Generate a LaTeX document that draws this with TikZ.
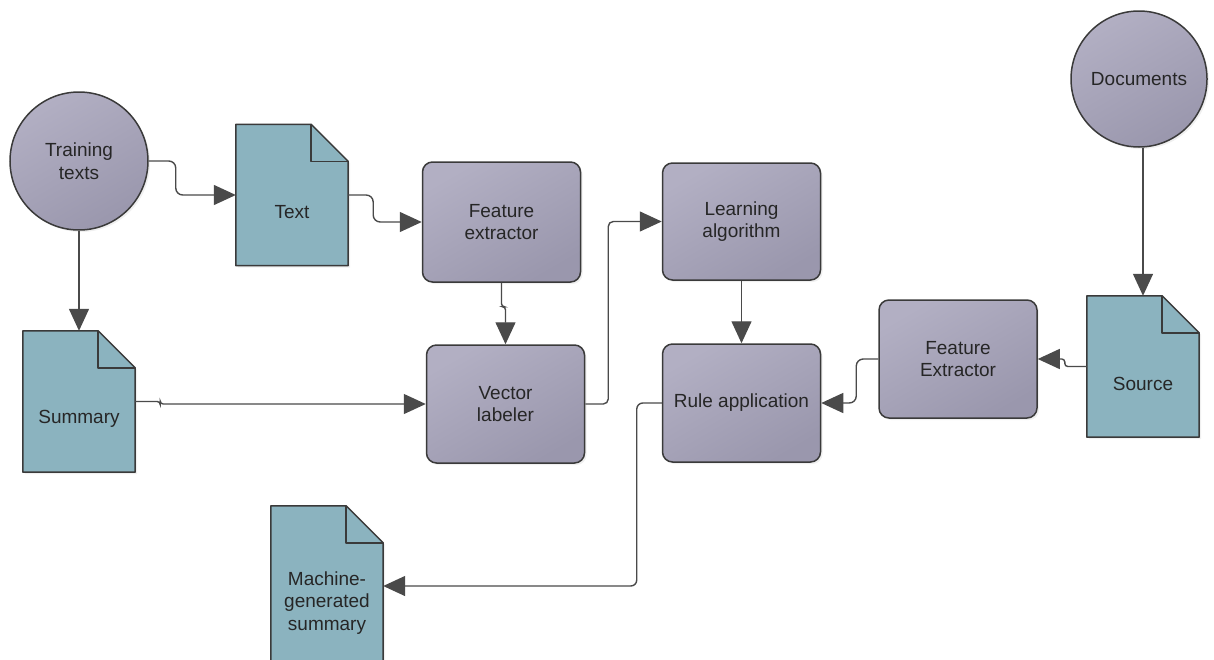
\documentclass[tikz,border=0pt]{standalone}
\usepackage{fontspec}
\setmainfont{Liberation Sans}
\usetikzlibrary{arrows.meta,shadows}

\definecolor{procA}{HTML}{B2AFC3}
\definecolor{procB}{HTML}{9A97AD}
\definecolor{docfillc}{HTML}{8BB3BF}
\definecolor{edgec}{HTML}{3A3A3A}
\definecolor{connc}{HTML}{4A4A4A}
\definecolor{txtc}{HTML}{262626}

% document page with a folded top-right corner, drawn round a named node
\newcommand\docpage[1]{%
  \path[draw=edgec, line width=1.5pt, fill=docfillc, line join=round,
        drop shadow={opacity=0.12, shadow xshift=2pt, shadow yshift=-2pt}]
    (#1.north west) -- ([xshift=-37pt]#1.north east)
    -- ([yshift=-37pt]#1.north east) -- (#1.south east)
    -- (#1.south west) -- cycle;
  \draw[edgec, line width=1.5pt, line join=round]
    ([xshift=-37pt]#1.north east) |- ([yshift=-37pt]#1.north east);
}

\begin{document}
\begin{tikzpicture}[x=1pt, y=-1pt,
  every node/.style={font=\fontsize{19}{22.5}\selectfont, text=txtc, align=center},
  proc/.style={draw=edgec, line width=1.5pt, rounded corners=10pt,
    top color=procA, bottom color=procB, shading angle=30,
    drop shadow={opacity=0.12, shadow xshift=2pt, shadow yshift=-2pt},
    minimum width=158pt, minimum height=118pt, inner sep=0pt},
  bubble/.style={circle, draw=edgec, line width=1.5pt,
    top color=procA, bottom color=procB, shading angle=30,
    drop shadow={opacity=0.12, shadow xshift=2pt, shadow yshift=-2pt},
    inner sep=0pt},
  docbox/.style={rectangle, minimum width=112pt, minimum height=141pt, inner sep=0pt},
  conn/.style={draw=connc, line width=1.4pt, rounded corners=7pt,
    -{Triangle[length=22pt, width=20pt]}}
]
\useasboundingbox (0,0) rectangle (1214,659);
\clip (0,0) rectangle (1214,659);

% source shapes
\node[bubble, minimum size=138pt] (tt) at (79,161) {Training\\texts};
\node[bubble, minimum size=136pt] (docs) at (1139,79) {Documents};

% document pages
\node[docbox] (text) at (292,195) {};
\docpage{text}
\node (text-l) at ([yshift=-17pt]text.center) {Text};

\node[docbox] (sum) at (79,401.5) {};
\docpage{sum}
\node (sum-l) at ([yshift=-17pt]sum.center) {Summary};

\node[docbox] (src) at (1143,366.5) {};
\docpage{src}
\node (src-l) at ([yshift=-17pt]src.center) {Source};

\node[docbox, minimum height=160pt] (mgs) at (327,586) {};
\docpage{mgs}
\node (mgs-l) at ([yshift=-17pt]mgs.center) {Machine-\\generated\\summary};

% processing steps
\node[proc, minimum height=120pt] (fe) at (501.5,222) {Feature\\extractor};
\node[proc] (vl) at (505.5,404) {Vector\\labeler};
\node[proc, minimum height=117pt] (la) at (741.5,221.5) {Learning\\algorithm};
\node[proc] (ra) at (741.5,403) {Rule application};
\node[proc] (fe2) at (958,359) {Feature\\Extractor};

% connectors
\draw[conn] (tt.east) -- ++(27,0) |- (text.west);
\draw[conn] (tt.south) -- (sum.north -| tt.south);
\draw[conn] (text.east) -- ++(25,0) |- (fe.west);
\draw[conn, rounded corners=3pt] (fe.south) -- ++(0,24) -| (vl.north);
\draw[conn, rounded corners=3pt] (sum.east) -- ++(25,0) |- (vl.west);
\draw[conn, rounded corners=5pt] (vl.east) -- ++(23,0) |- (la.west);
\draw[conn] (la.south) -- (ra.north);
\draw[conn] (src.north |- docs.south) -- (src.north);
\draw[conn, rounded corners=3pt] (src.west) -- ++(-22,0) |- (fe2.east);
\draw[conn] (fe2.west) -- ++(-22,0) |- (ra.east);
\draw[conn, rounded corners=6pt] (ra.west) -- ++(-25,0) |- (mgs.east);
\end{tikzpicture}
\end{document}
